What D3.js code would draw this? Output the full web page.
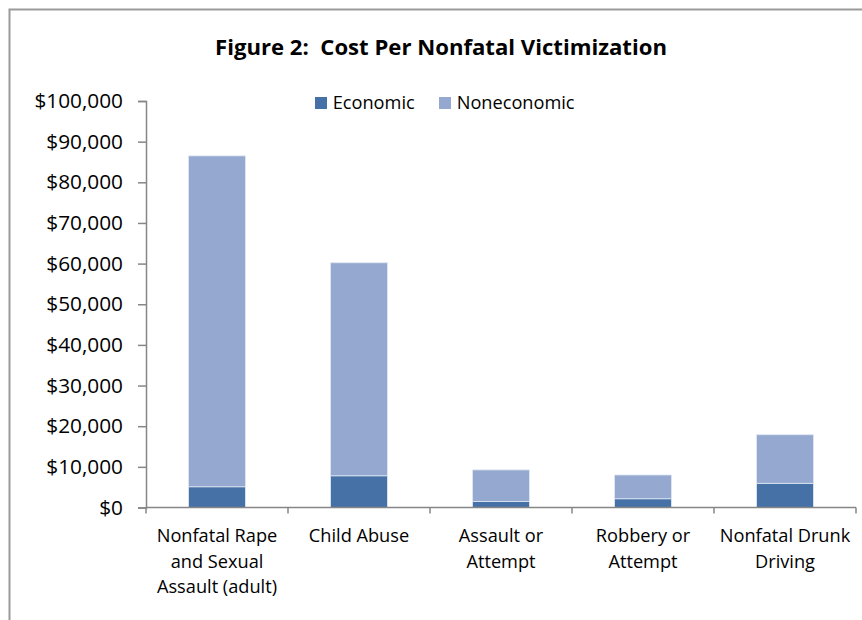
<!DOCTYPE html>
<html>
<head>
<meta charset="utf-8">
<script src="https://cdn.jsdelivr.net/npm/d3@7"></script>
<style>
  html, body { margin: 0; padding: 0; background: #fff; }
  svg text { font-family: "Open Sans", Carlito, Lato, sans-serif; fill: #000; }
</style>
</head>
<body>
<svg id="chart" width="862" height="620"></svg>
<script>
const categories = [
  ["Nonfatal Rape", "and Sexual", "Assault (adult)"],
  ["Child Abuse"],
  ["Assault or", "Attempt"],
  ["Robbery or", "Attempt"],
  ["Nonfatal Drunk", "Driving"]
];
const seriesNames = ["Economic", "Noneconomic"];
const economic = [5100, 7800, 1500, 2150, 5950];
const noneconomic = [81400, 52400, 7750, 5850, 11950];
const yTicks = [0, 10000, 20000, 30000, 40000, 50000, 60000, 70000, 80000, 90000, 100000];
const title = "Figure 2:  Cost Per Nonfatal Victimization";

const colors = { Economic: "#4571A6", Noneconomic: "#95A9D0" };

const svg = d3.select("#chart");

// chart frame
svg.append("path")
  .attr("d", "M9.5,620 L9.5,9.5 L862,9.5")
  .attr("fill", "none")
  .attr("stroke", "#9a9a9a")
  .attr("stroke-width", 2);

const pLeft = 146, pRight = 856, pTop = 101, pBottom = 507.5;

const keys = categories.map(c => c.join(" "));
const rows = keys.map((k, i) => ({ key: k, Economic: economic[i], Noneconomic: noneconomic[i] }));
const stacked = d3.stack().keys(seriesNames)(rows);

const x = d3.scaleBand().domain(keys).range([pLeft, pRight]).paddingInner(0.6).paddingOuter(0.3);
const y = d3.scaleLinear().domain([0, 100000]).range([pBottom, pTop]);

// bars
svg.append("g").selectAll("g")
  .data(stacked)
  .join("g")
  .attr("fill", d => colors[d.key])
  .selectAll("rect")
  .data(d => d)
  .join("rect")
  .attr("x", d => x(d.data.key))
  .attr("width", x.bandwidth())
  .attr("y", d => y(d[1]))
  .attr("height", d => y(d[0]) - y(d[1]))
  .attr("stroke", "#dfe6f2")
  .attr("stroke-width", 0.8);

// y axis
const yAxis = svg.append("g")
  .attr("transform", `translate(${pLeft},0)`)
  .call(d3.axisLeft(y).tickValues(yTicks).tickSize(8).tickPadding(15)
    .tickFormat(d => "$" + d3.format(",")(d)));
yAxis.select(".domain").attr("stroke", "#868686").attr("stroke-width", 1.5);
yAxis.selectAll(".tick line").attr("stroke", "#868686").attr("stroke-width", 1.5);
yAxis.selectAll(".tick text").style("font-size", "20.8px").style("font-family", "'Open Sans', sans-serif").attr("fill", "#000");

// x axis
const step = x.step();
const boundaries = keys.map(k => x(k) + x.bandwidth() / 2 - step / 2).concat([x(keys[keys.length - 1]) + x.bandwidth() / 2 + step / 2]);
const xg = svg.append("g");
xg.append("line")
  .attr("x1", pLeft).attr("x2", pRight)
  .attr("y1", pBottom).attr("y2", pBottom)
  .attr("stroke", "#868686").attr("stroke-width", 1.5);
xg.selectAll("line.tk")
  .data(boundaries)
  .join("line")
  .attr("class", "tk")
  .attr("x1", d => d).attr("x2", d => d)
  .attr("y1", pBottom).attr("y2", pBottom + 6)
  .attr("stroke", "#868686").attr("stroke-width", 1.5);

const lab = svg.append("g").selectAll("text")
  .data(categories)
  .join("text")
  .attr("text-anchor", "middle")
  .attr("x", (d, i) => x(keys[i]) + x.bandwidth() / 2)
  .attr("y", 542)
  .style("font-size", "18.2px");
lab.selectAll("tspan")
  .data(d => d)
  .join("tspan")
  .attr("x", function () { return d3.select(this.parentNode).attr("x"); })
  .attr("dy", (d, i) => i === 0 ? 0 : 25.7)
  .text(d => d);

// title
const t = svg.append("text")
  .attr("x", 441).attr("y", 55)
  .attr("text-anchor", "middle")
  .style("white-space", "pre")
  .style("font-size", "22px")
  .style("font-weight", "bold")
  .text(title);
const tw = t.node().getComputedTextLength();
t.style("font-size", (22 * 452 / tw).toFixed(2) + "px");

// legend
const legendPos = [315, 439];
const lg = svg.append("g").selectAll("g")
  .data(seriesNames)
  .join("g")
  .attr("transform", (d, i) => `translate(${legendPos[i]},97)`);
lg.append("rect").attr("width", 12).attr("height", 12).attr("fill", d => colors[d]);
lg.append("text").attr("x", 17.7).attr("y", 12).style("font-size", "18.2px").text(d => d);
</script>
</body>
</html>
